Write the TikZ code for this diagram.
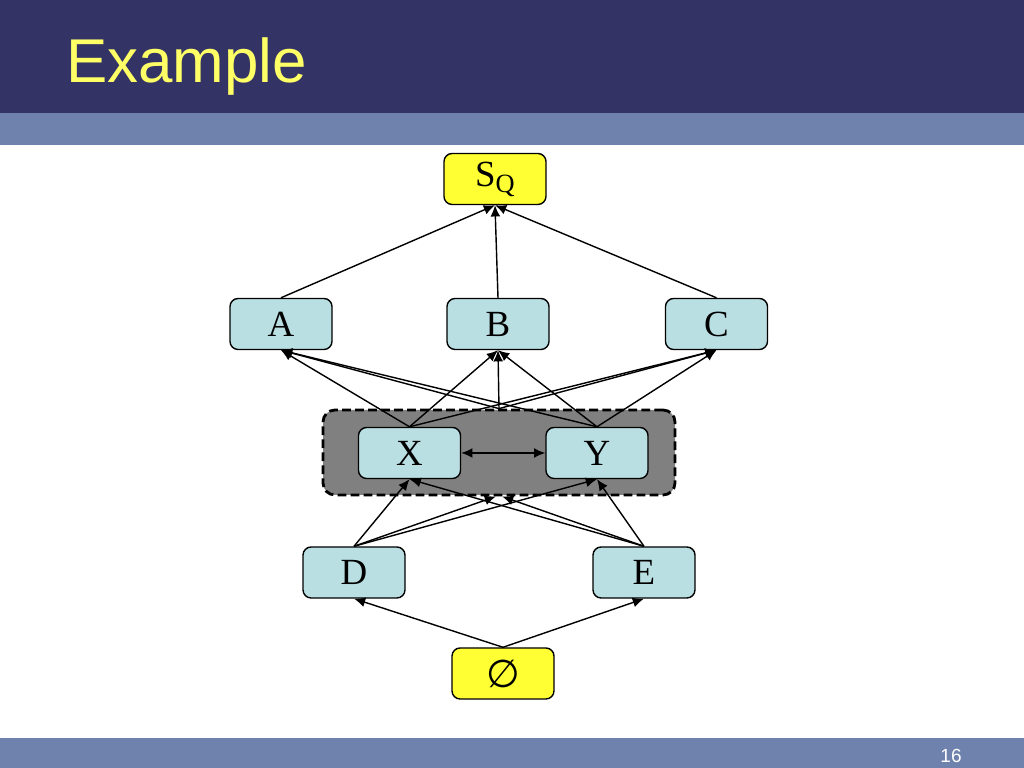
\documentclass[tikz,border=0pt]{standalone}
\usepackage{fontspec}
\setmainfont{Liberation Serif}
\newfontfamily\titlefont{Liberation Sans}
\newfontfamily\symfont{DejaVu Sans}
\usetikzlibrary{arrows.meta}
\definecolor{navy}{HTML}{333366}
\definecolor{band}{HTML}{6F82AD}
\definecolor{titleyellow}{HTML}{FFFF66}
\definecolor{boxblue}{HTML}{B9DFE3}
\definecolor{boxyellow}{HTML}{FFFF33}

\begin{document}
\begin{tikzpicture}[
    lattice/.style={draw, rounded corners=2.3pt, fill=boxblue, minimum width=1.02cm,
      minimum height=0.51cm, inner sep=0pt, font=\fontsize{10.5}{12}\selectfont},
    endbox/.style={lattice, fill=boxyellow},
    edge/.style={line width=0.4pt, -{Latex[length=3.2pt,width=2.8pt]}}
  ]
          \useasboundingbox (0,0) rectangle (10.24,7.68);
          % Title bar
          \fill[navy] (0,6.55) rectangle (10.24,7.68);
          \fill[band] (0,6.23) rectangle (10.24,6.55);
          \node[anchor=base west, inner sep=0pt, text=titleyellow, font=\titlefont\fontsize{17.6}{20}\selectfont]
            (title) at (0.655,6.85) {Example};
          % Footer
          \fill[band] (0,0) rectangle (10.24,0.3);
          \node[anchor=base, inner sep=0pt, text=white, font=\titlefont\fontsize{5.4}{6}\selectfont]
            (page) at (9.51,0.05) {16};
          % Merged pair
          \node[draw, dashed, dash pattern=on 2.5pt off 1.2pt, line width=0.8pt, fill=gray,
            rounded corners=3.4pt, minimum width=3.52cm, minimum height=0.85cm] (xy) at (4.99,3.155) {};
          % Nodes
          \node[endbox] (sq) at (4.95,5.89) {S\raisebox{-0.35ex}{\fontsize{7.5}{8}\selectfont Q}};
          \node[lattice] (a) at (2.81,4.44) {A};
          \node[lattice] (b) at (4.98,4.44) {B};
          \node[lattice] (c) at (7.165,4.44) {C};
          \node[lattice] (x) at (4.095,3.15) {X};
          \node[lattice] (y) at (5.97,3.15) {Y};
          \node[lattice] (d) at (3.54,1.955) {D};
          \node[lattice] (e) at (6.44,1.955) {E};
          \node[endbox] (bot) at (5.03,0.945) {\symfont\fontsize{11}{12}\selectfont ∅};
          % Edges
          \foreach \n in {a,b,c} {
            \draw[edge] (\n.north) -- (sq.south);
            \draw[edge] (x.north) -- (\n.south);
            \draw[edge] (y.north) -- (\n.south);
            \draw[edge] (xy.north) -- (\n.south);
          }
          \foreach \n in {d,e} {
            \draw[edge] (\n.north) -- (x.south);
            \draw[edge] (\n.north) -- (y.south);
            \draw[edge] (bot.north) -- (\n.south);
          }
          \draw[edge] (d.north) -- ([xshift=-0.03cm]xy.south);
          \draw[edge] (e.north) -- ([xshift=0.03cm]xy.south);
          \draw[edge, {Latex[length=3.2pt,width=2.8pt]}-{Latex[length=3.2pt,width=2.8pt]}] (x.east) -- (y.west);
        \end{tikzpicture}
\end{document}
